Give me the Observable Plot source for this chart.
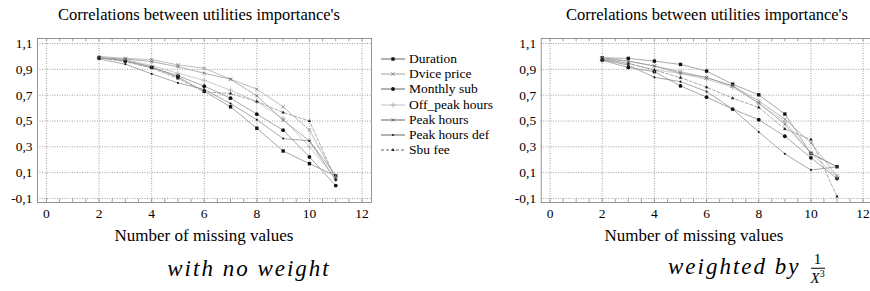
<!DOCTYPE html>
<html><head><meta charset="utf-8">
<style>
html,body{margin:0;padding:0;background:#fff;}
body{width:870px;height:291px;overflow:hidden;position:relative;color:#000;font-family:"Liberation Serif",serif;}
.abs{position:absolute;white-space:nowrap;}
.legend .row{height:15.3px;display:flex;align-items:center;}
.legend svg{margin-right:3px;}
</style>
<script src="https://cdn.jsdelivr.net/npm/d3@7"></script>
<script src="https://cdn.jsdelivr.net/npm/@observablehq/plot@0.6"></script>
</head><body>
<script>
// ---- data ----
const missing = [2, 3, 4, 5, 6, 7, 8, 9, 10, 11];
const seriesNames = ["Duration", "Dvice price", "Monthly sub", "Off_peak hours", "Peak hours", "Peak hours def", "Sbu fee"];

// with no weight
const noWeightDuration     = [0.99, 0.97, 0.92, 0.84, 0.73, 0.61, 0.444, 0.268, 0.17, 0.075];
const noWeightDvicePrice   = [1.00, 0.985, 0.975, 0.935, 0.908, 0.824, 0.746, 0.61, 0.43, 0.06];
const noWeightMonthlySub   = [0.99, 0.965, 0.915, 0.85, 0.77, 0.677, 0.553, 0.429, 0.222, 0.0];
const noWeightOffPeak      = [0.99, 0.975, 0.93, 0.87, 0.815, 0.739, 0.65, 0.52, 0.30, 0.06];
const noWeightPeakHours    = [0.99, 0.98, 0.96, 0.92, 0.87, 0.824, 0.695, 0.506, 0.346, 0.08];
const noWeightPeakHoursDef = [0.98, 0.94, 0.865, 0.795, 0.745, 0.635, 0.51, 0.364, 0.346, 0.04];
const noWeightSbuFee       = [0.99, 0.96, 0.91, 0.83, 0.726, 0.713, 0.651, 0.566, 0.50, 0.05];

// weighted by 1/X^3
const weightedDuration     = [0.99, 0.985, 0.964, 0.938, 0.887, 0.785, 0.703, 0.554, 0.249, 0.146];
const weightedDvicePrice   = [0.98, 0.964, 0.926, 0.882, 0.836, 0.772, 0.656, 0.515, 0.33, 0.074];
const weightedMonthlySub   = [0.97, 0.915, 0.882, 0.772, 0.685, 0.592, 0.51, 0.382, 0.215, 0.055];
const weightedOffPeak      = [0.98, 0.946, 0.895, 0.87, 0.823, 0.762, 0.638, 0.497, 0.249, 0.07];
const weightedPeakHours    = [0.99, 0.964, 0.926, 0.87, 0.836, 0.772, 0.638, 0.475, 0.249, 0.146];
const weightedPeakHoursDef = [0.975, 0.933, 0.838, 0.805, 0.728, 0.592, 0.415, 0.246, 0.12, 0.146];
const weightedSbuFee       = [0.98, 0.946, 0.895, 0.836, 0.762, 0.677, 0.605, 0.438, 0.356, -0.085];

const xTicks = [0, 2, 4, 6, 8, 10, 12];
const yTicks = [-0.1, 0.1, 0.3, 0.5, 0.7, 0.9, 1.1];
const chartTitle = "Correlations between utilities importance's";
const xLabel = "Number of missing values";
const captionLeft = "with no weight";
const captionRight = "weighted by";

// ---- build tables ----
function table(arrays) {
  const rows = [];
  arrays.forEach((arr, i) => arr.forEach((v, j) => rows.push({series: seriesNames[i], x: missing[j], y: v})));
  return rows;
}
const dataNoWeight = table([noWeightDuration, noWeightDvicePrice, noWeightMonthlySub, noWeightOffPeak, noWeightPeakHours, noWeightPeakHoursDef, noWeightSbuFee]);
const dataWeighted = table([weightedDuration, weightedDvicePrice, weightedMonthlySub, weightedOffPeak, weightedPeakHours, weightedPeakHoursDef, weightedSbuFee]);

const style = {
  "Duration":       {symbol: "square",   r: 1.9, fill: "#111", stroke: "none", line: "#8c8c8c", dash: null},
  "Dvice price":    {symbol: "times",    r: 1.7, fill: "none", stroke: "#888", line: "#a6a6a6", dash: null},
  "Monthly sub":    {symbol: "circle",   r: 1.9, fill: "#111", stroke: "none", line: "#8c8c8c", dash: null},
  "Off_peak hours": {symbol: "plus",     r: 1.9, fill: "none", stroke: "#b0b0b0", line: "#bdbdbd", dash: null},
  "Peak hours":     {symbol: "times",    r: 1.5, fill: "none", stroke: "#666", line: "#959595", dash: null},
  "Peak hours def": {symbol: "circle",   r: 1.1, fill: "#222", stroke: "none", line: "#8c8c8c", dash: null},
  "Sbu fee":        {symbol: "triangle", r: 1.3, fill: "#222", stroke: "none", line: "#8c8c8c", dash: "3,2"}
};

const FONT = "Liberation Serif";
const fmt = d => (Math.abs(d) < 1e-9 ? "0" : d.toFixed(1).replace(".", ","));
const xDomain = [-0.34, 12.36];
const yDomain = [-0.131, 1.139];
const minorX = d3.range(0, 12.01, 0.5);

function chart(data, width, ml, mr) {
  const marks = [
    Plot.gridX(xTicks, {stroke: "#a0a0a0", strokeOpacity: 1, strokeDasharray: "1,1.5"}),
    Plot.gridY(yTicks, {stroke: "#a0a0a0", strokeOpacity: 1, strokeDasharray: "1,1.5"}),
    Plot.ruleX(minorX, {y1: yDomain[0], y2: yDomain[0] + 0.025, stroke: "#777", strokeWidth: 0.7}),
    Plot.ruleX(minorX, {y1: yDomain[1], y2: yDomain[1] - 0.025, stroke: "#777", strokeWidth: 0.7}),
    Plot.frame({stroke: "#888", strokeWidth: 0.9})
  ];
  for (const s of seriesNames) {
    const st = style[s];
    const sub = data.filter(d => d.series === s);
    marks.push(Plot.line(sub, {x: "x", y: "y", stroke: st.line, strokeWidth: 0.75, strokeDasharray: st.dash}));
  }
  for (const s of seriesNames) {
    const st = style[s];
    const sub = data.filter(d => d.series === s);
    marks.push(Plot.dot(sub, {x: "x", y: "y", symbol: () => st.symbol, r: st.r, fill: st.fill, stroke: st.stroke, strokeWidth: 0.8}));
  }
  const svg = Plot.plot({
    width, height: 225,
    marginLeft: ml, marginRight: mr, marginTop: 38, marginBottom: 23,
    x: {domain: xDomain, ticks: xTicks, tickSize: 0, tickPadding: 6, tickFormat: d => String(d), label: null},
    y: {domain: yDomain, ticks: yTicks, tickSize: 0, tickPadding: 5, tickFormat: fmt, label: null},
    symbol: {type: "identity"},
    style: {fontFamily: FONT, fontSize: "13.5px", color: "#000", background: "transparent", overflow: "visible"},
    marks
  });
  return svg;
}

function place(el, left, top) {
  el.style.position = "absolute";
  el.style.left = left + "px";
  el.style.top = top + "px";
  document.body.appendChild(el);
  return el;
}
function text(str, x, y, size, opts = {}) {
  const d = document.createElement("div");
  d.className = "abs";
  d.textContent = str;
  d.style.left = x + "px";
  d.style.top = y + "px";
  d.style.fontFamily = FONT;
  d.style.fontSize = size + "px";
  if (opts.italic) d.style.fontStyle = "italic";
  if (opts.spacing) d.style.letterSpacing = opts.spacing + "px";
  d.style.transform = opts.left ? "translate(0,-50%)" : "translate(-50%,-50%)";
  document.body.appendChild(d);
  return d;
}

place(chart(dataNoWeight, 380, 37, 9), 0, 0);
place(chart(dataWeighted, 380, 40.7, 8), 500, 0);

text(chartTitle, 199, 15, 16.5);
text(chartTitle, 707, 15, 16.5);
text(xLabel, 204, 236, 17);
text(xLabel, 694, 236, 17);
text(captionLeft, 249, 269, 23, {italic: true, spacing: 2});

const capR = text(captionRight, 668, 269, 23, {italic: true, spacing: 2, left: true});
const frac = document.createElement("span");
frac.style.cssText = "display:inline-block;vertical-align:middle;text-align:center;font-size:15px;margin-left:10px;line-height:1.05;letter-spacing:0;";
const num = document.createElement("div");
num.textContent = "1";
num.style.cssText = "border-bottom:1px solid #000;padding:0 3px;font-style:normal;";
const den = document.createElement("div");
den.innerHTML = '<i>X</i><sup style="font-size:10px;font-style:normal">3</sup>';
frac.appendChild(num); frac.appendChild(den);
capR.appendChild(frac);

// legend
const leg = document.createElement("div");
leg.className = "abs legend";
leg.style.left = "380px"; leg.style.top = "51px";
leg.style.fontFamily = FONT; leg.style.fontSize = "13.5px";
for (const s of seriesNames) {
  const st = style[s];
  const row = document.createElement("div");
  row.className = "row";
  const svg = d3.create("svg").attr("width", 26).attr("height", 10);
  svg.append("line").attr("x1", 1).attr("x2", 25).attr("y1", 5).attr("y2", 5)
    .attr("stroke", s === "Off_peak hours" ? "#bdbdbd" : (s === "Dvice price" ? "#999" : "#555")).attr("stroke-width", 0.9)
    .attr("stroke-dasharray", st.dash);
  const sym = d3.symbol().type({square: d3.symbolSquare, circle: d3.symbolCircle, times: d3.symbolTimes, plus: d3.symbolPlus, triangle: d3.symbolTriangle}[st.symbol]).size(Math.PI * st.r * st.r);
  svg.append("path").attr("d", sym()).attr("transform", "translate(13,5)")
    .attr("fill", st.fill).attr("stroke", st.stroke === "none" ? "none" : st.stroke).attr("stroke-width", 0.9);
  row.appendChild(svg.node());
  const t = document.createElement("span");
  t.textContent = s;
  row.appendChild(t);
  leg.appendChild(row);
}
document.body.appendChild(leg);
</script>
</body></html>
